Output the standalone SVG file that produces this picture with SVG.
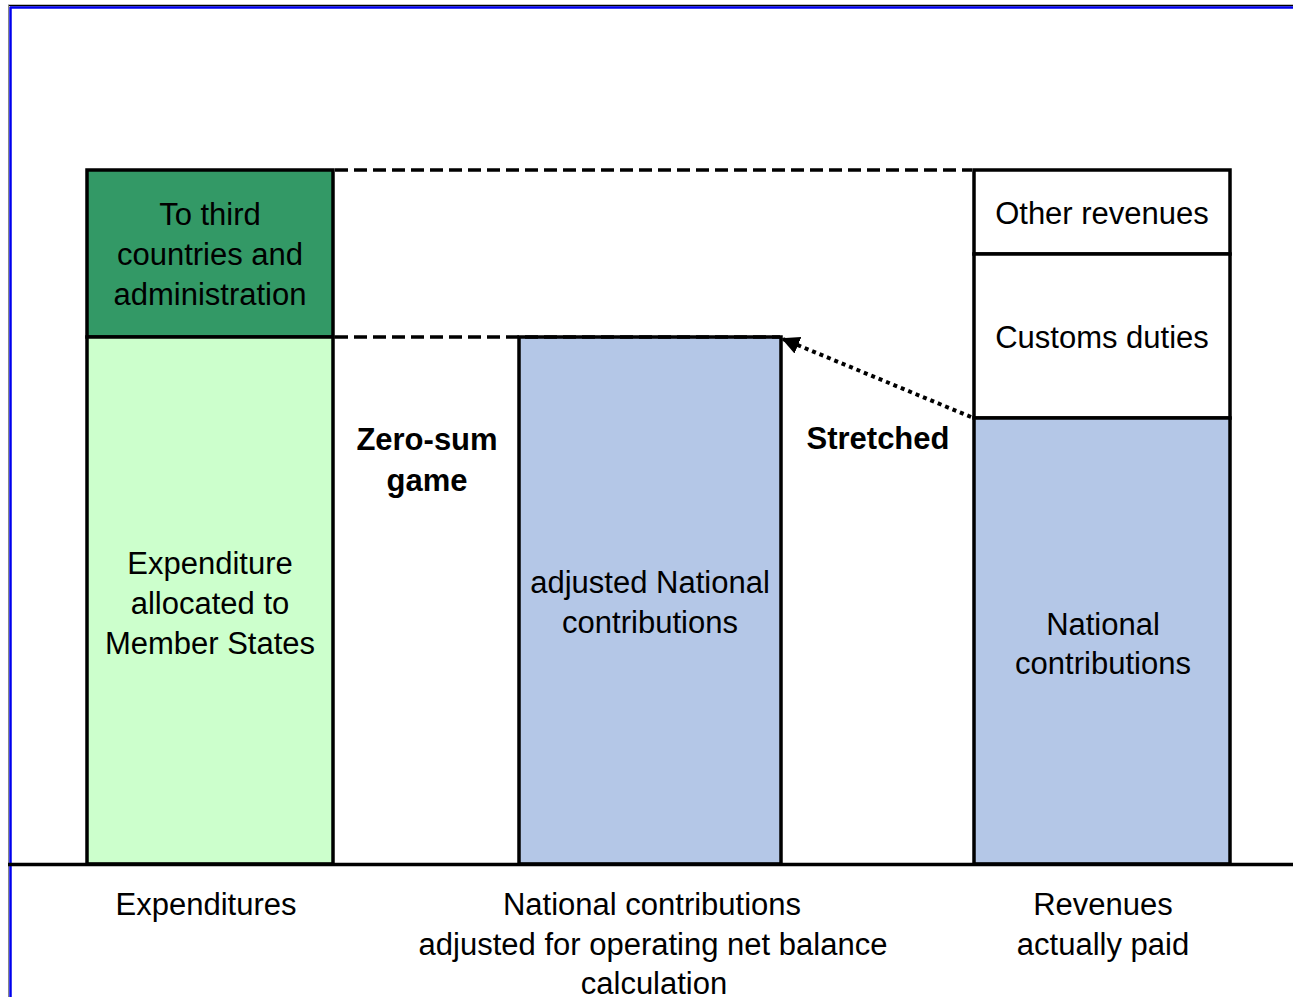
<svg xmlns="http://www.w3.org/2000/svg" width="1293" height="997" viewBox="0 0 1293 997">
<style>
text{font-family:"Liberation Sans",Arial,sans-serif;font-size:31px;fill:#000;text-anchor:middle}
.b{font-weight:bold}
.box{stroke:#000;stroke-width:3.5}
.dash{stroke:#000;stroke-width:3.5;stroke-dasharray:13 6;fill:none}
</style>
<defs>
<marker id="ah" viewBox="0 0 10 10" refX="9" refY="5" markerWidth="4.5" markerHeight="4.5" orient="auto" markerUnits="strokeWidth">
<path d="M0,0 L10,5 L0,10 z" fill="#000"/>
</marker>
</defs>
<rect width="1293" height="997" fill="#fff"/>
<g id="frame">
<line x1="8" y1="5.5" x2="1293" y2="5.5" stroke="#000" stroke-width="1.5"/>
<line x1="8.5" y1="5" x2="8.5" y2="997" stroke="#888" stroke-width="1"/>
<line x1="10" y1="7.5" x2="1293" y2="7.5" stroke="#0000ee" stroke-width="2.5"/>
<line x1="10.5" y1="7" x2="10.5" y2="997" stroke="#0000ee" stroke-width="2.5"/>
</g>
<g id="third">
<rect class="box" x="87" y="170" width="246" height="167" fill="#339966"/>
<text x="210" y="225">To third</text>
<text x="210" y="265">countries and</text>
<text x="210" y="305">administration</text>
</g>
<g id="member">
<rect class="box" x="87" y="337" width="246" height="527" fill="#ccffcc"/>
<text x="210" y="574">Expenditure</text>
<text x="210" y="614">allocated to</text>
<text x="210" y="654">Member States</text>
</g>
<g id="adjusted">
<rect class="box" x="519" y="337" width="262" height="527" fill="#b4c7e7"/>
<text x="650" y="593">adjusted National</text>
<text x="650" y="633">contributions</text>
</g>
<g id="other">
<rect class="box" x="974" y="170" width="256" height="84" fill="#fff"/>
<text x="1102" y="224">Other revenues</text>
</g>
<g id="customs">
<rect class="box" x="974" y="254" width="256" height="164" fill="#fff"/>
<text x="1102" y="348">Customs duties</text>
</g>
<g id="national">
<rect class="box" x="974" y="418" width="256" height="446" fill="#b4c7e7"/>
<text x="1103" y="635">National</text>
<text x="1103" y="674">contributions</text>
</g>
<g id="connectors">
<line class="dash" x1="335" y1="170" x2="972" y2="170"/>
<line class="dash" x1="335" y1="337" x2="780" y2="337"/>
<line x1="971" y1="417" x2="783" y2="339" stroke="#000" stroke-width="4" stroke-dasharray="4 4" marker-end="url(#ah)"/>
<line x1="8" y1="864.5" x2="1293" y2="864.5" stroke="#000" stroke-width="3.5"/>
</g>
<g id="labels">
<text class="b" x="427" y="450">Zero-sum</text>
<text class="b" x="427" y="491">game</text>
<text class="b" x="878" y="449">Stretched</text>
<text x="206" y="915">Expenditures</text>
<text x="652" y="915">National contributions</text>
<text x="653" y="955">adjusted for operating net balance</text>
<text x="654" y="994">calculation</text>
<text x="1103" y="915">Revenues</text>
<text x="1103" y="955">actually paid</text>
</g>
</svg>
